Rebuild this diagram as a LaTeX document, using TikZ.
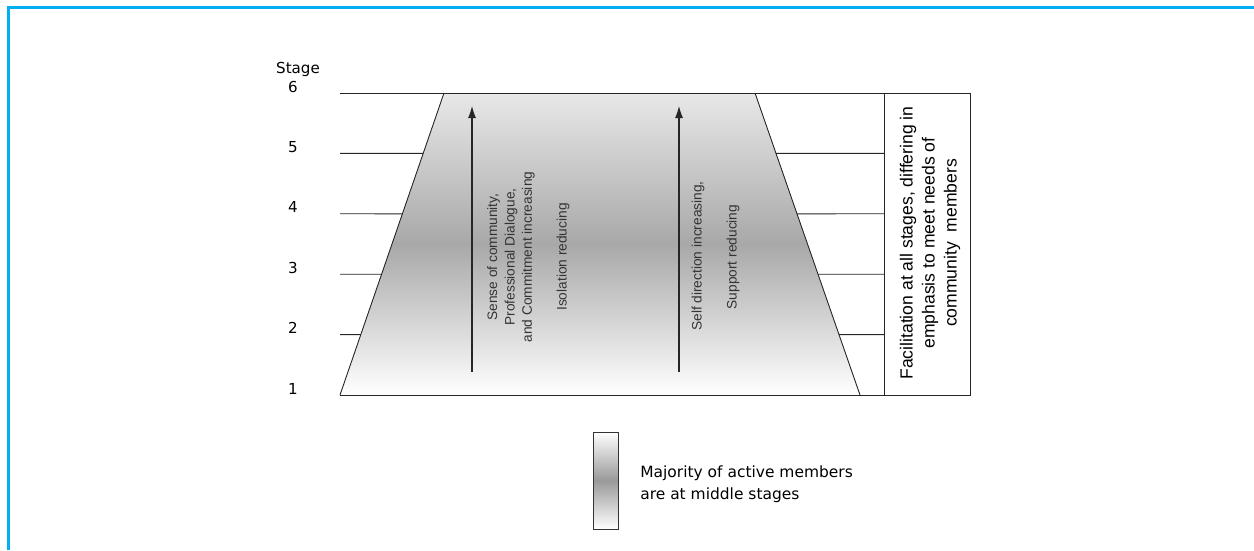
\documentclass[tikz,border=0pt]{standalone}
\usepackage{fontspec}
\setmainfont{Liberation Sans}
\newfontfamily\stagefont{DejaVu Sans}
\usepackage{tikz}
\usetikzlibrary{arrows.meta,calc,positioning}
\definecolor{framecyan}{RGB}{0,176,240}
\tikzset{%
	frameline/.style = {draw=framecyan, line width=0.06cm},
	stagenum/.style  = {font=\stagefont\fontsize{8.6}{10}\selectfont, inner sep=0pt},
	stageline/.style = {draw=black!85, line width=0.5pt},
	bandshade/.style = {top color=black!9, bottom color=white, middle color=black!34},
	barshade/.style  = {draw=black!80, line width=0.5pt, top color=white, bottom color=white, middle color=black!40,
	                    minimum width=0.5cm, minimum height=1.94cm, inner sep=0pt},
	arrowtxt/.style  = {font=\fontsize{7.8}{9.9}\selectfont, text=black!80, align=center, rotate=90, inner sep=0pt},
	facil/.style     = {font=\fontsize{10}{12.5}\selectfont, align=center, rotate=90, inner sep=0pt},
	legendtxt/.style = {font=\stagefont\fontsize{8.8}{12.5}\selectfont, align=left, anchor=west, inner sep=0pt},
	arrow/.style     = {draw=black!85, line width=0.6pt, -{Latex[length=2.4mm,width=1.6mm]}},
}

\begin{document}
\begin{tikzpicture}[x=0.2mm,y=-0.2mm]
	\useasboundingbox (0,0) rectangle (1254,550);
	\draw[frameline] (8.5,550) |- (1254,7);
	% corners of the band and of the facilitation box
	\coordinate (tl) at (444,93);
	\coordinate (tr) at (755,93);
	\coordinate (br) at (860,395);
	\coordinate (bl) at (340,395);
	\coordinate (boxtl) at (884,93);
	\coordinate (boxbr) at (970,395);
	\fill[bandshade] (bl) -- (tl) -- (tr) -- (br) -- cycle;
	\draw[stageline] (bl) -- (tl);
	\draw[stageline] (tr) -- (br);
	\draw[stageline] (340,93) -- (boxtl);
	\draw[stageline] (bl) -- (boxtl |- bl);
	\draw[stageline] (boxtl) rectangle (boxbr);
	% stage levels 2..5
	\foreach \s in {2,...,5} {
		\pgfmathsetmacro\f{(\s-1)/5}
		\draw[stageline] (340,{395-(\s-1)*60.4}) -- ($(bl)!\f!(tl)$);
		\draw[stageline] ($(br)!\f!(tr)$) -- (884,{395-(\s-1)*60.4});
	}
	\node[stagenum] (stagehead) at (298,69) {Stage};
	\foreach \s in {1,...,6}
		\node[stagenum] (stage\s) at (293,{388.5-(\s-1)*60.4}) {\s};
	% the two rising arrows
	\coordinate (comlo) at (472,372);
	\coordinate (comhi) at (472,106);
	\coordinate (dirlo) at (679,372);
	\coordinate (dirhi) at (679,106);
	\draw[arrow] (comlo) -- (comhi);
	\draw[arrow] (dirlo) -- (dirhi);
	\node[arrowtxt] (sense) at (511,257) {Sense of community,\\Professional Dialogue,\\and Commitment increasing};
	\node[arrowtxt] (isolation) at (563,257) {Isolation reducing};
	\node[arrowtxt] (selfdir) at (698,256) {Self direction increasing,};
	\node[arrowtxt] (support) at (733,257) {Support reducing};
	\node[facil] (facilitation) at (930,243) {Facilitation at all stages, differing in\\emphasis to meet needs of\\community~ members};
	% legend
	\node[barshade] (bar) at (605.5,480.5) {};
	\node[legendtxt] (legend) at (640,484) {Majority of active members\\are at middle stages};
\end{tikzpicture}
\end{document}
